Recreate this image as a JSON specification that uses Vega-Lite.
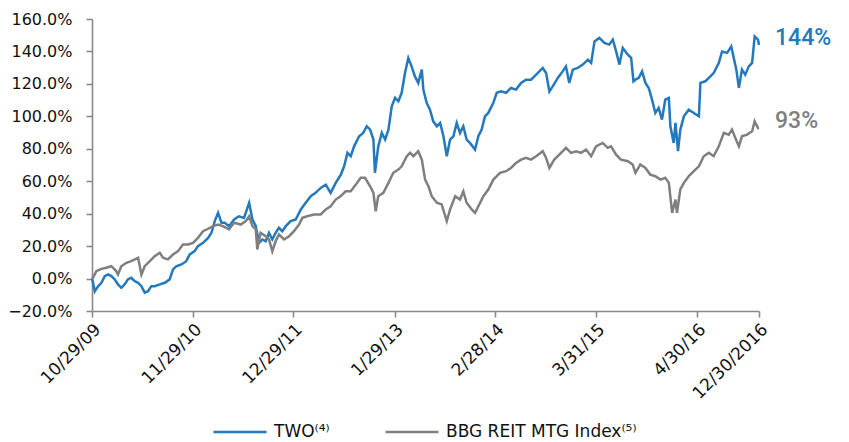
{
  "$schema": "https://vega.github.io/schema/vega-lite/v6.json",
  "width": 667,
  "height": 292,
  "autosize": {"type": "none"},
  "padding": {"left": 92, "top": 19, "right": 90, "bottom": 131},
  "background": "white",
  "config": {
    "view": {"stroke": null},
    "axis": {
      "grid": false,
      "title": null,
      "domainColor": "#8a8a8a",
      "domainWidth": 1.6,
      "tickColor": "#8a8a8a",
      "tickWidth": 1.6,
      "tickSize": 6,
      "labelColor": "#111111",
      "labelFont": "DejaVu Sans"
    }
  },
  "datasets": {
    "TWO": [
      {"date":"2009-10-29","value":0},{"date":"2009-11-02","value":-2.6},{"date":"2009-11-09","value":-7.8},{"date":"2009-11-22","value":-4.7},{"date":"2009-12-05","value":-2.6},{"date":"2009-12-18","value":1.5},{"date":"2009-12-31","value":2.5},{"date":"2010-01-13","value":1.5},{"date":"2010-01-26","value":-0.5},{"date":"2010-02-08","value":-3.6},{"date":"2010-02-21","value":-5.7},{"date":"2010-03-06","value":-3.6},{"date":"2010-03-19","value":-0.5},{"date":"2010-04-01","value":0.5},{"date":"2010-04-15","value":-1.6},{"date":"2010-04-28","value":-2.6},{"date":"2010-05-11","value":-4.7},{"date":"2010-05-24","value":-8.7},{"date":"2010-06-06","value":-7.8},{"date":"2010-06-19","value":-4.7},{"date":"2010-07-02","value":-4.7},{"date":"2010-07-22","value":-3.6},{"date":"2010-08-11","value":-2.6},{"date":"2010-08-30","value":-0.5},{"date":"2010-09-12","value":5.6},{"date":"2010-09-25","value":7.6},{"date":"2010-10-15","value":8.7},{"date":"2010-11-03","value":10.7},{"date":"2010-11-17","value":14.9},{"date":"2010-12-06","value":16.9},{"date":"2010-12-19","value":20.0},{"date":"2011-01-08","value":22.0},{"date":"2011-01-28","value":25.1},{"date":"2011-02-10","value":28.2},{"date":"2011-02-23","value":35.4},{"date":"2011-03-08","value":40.5},{"date":"2011-03-21","value":34.4},{"date":"2011-04-03","value":34.4},{"date":"2011-04-20","value":32.3},{"date":"2011-05-10","value":36.4},{"date":"2011-05-29","value":38.4},{"date":"2011-06-18","value":37.4},{"date":"2011-07-08","value":46.7},{"date":"2011-07-21","value":36.4},{"date":"2011-08-03","value":32.3},{"date":"2011-08-16","value":22.0},{"date":"2011-08-29","value":24.1},{"date":"2011-09-11","value":23.0},{"date":"2011-09-24","value":28.2},{"date":"2011-10-07","value":24.1},{"date":"2011-10-20","value":28.2},{"date":"2011-11-02","value":31.3},{"date":"2011-11-15","value":29.2},{"date":"2011-11-29","value":32.3},{"date":"2011-12-18","value":35.4},{"date":"2012-01-07","value":36.4},{"date":"2012-01-27","value":42.6},{"date":"2012-02-15","value":46.7},{"date":"2012-03-06","value":50.8},{"date":"2012-03-25","value":52.8},{"date":"2012-04-14","value":55.9},{"date":"2012-05-04","value":57.9},{"date":"2012-05-23","value":52.8},{"date":"2012-06-12","value":59.0},{"date":"2012-07-02","value":64.1},{"date":"2012-07-15","value":69.2},{"date":"2012-07-28","value":77.5},{"date":"2012-08-10","value":75.4},{"date":"2012-08-23","value":81.5},{"date":"2012-09-12","value":87.7},{"date":"2012-09-28","value":89.8},{"date":"2012-10-12","value":93.9},{"date":"2012-10-25","value":91.8},{"date":"2012-11-07","value":85.7},{"date":"2012-11-13","value":65.2},{"date":"2012-11-26","value":81.5},{"date":"2012-12-10","value":89.8},{"date":"2012-12-23","value":85.7},{"date":"2013-01-05","value":91.8},{"date":"2013-01-18","value":106.2},{"date":"2013-01-31","value":111.4},{"date":"2013-02-13","value":109.3},{"date":"2013-02-26","value":114.5},{"date":"2013-03-11","value":126.7},{"date":"2013-03-24","value":136.0},{"date":"2013-04-06","value":130.8},{"date":"2013-04-19","value":124.6},{"date":"2013-05-02","value":120.6},{"date":"2013-05-16","value":128.8},{"date":"2013-05-22","value":116.5},{"date":"2013-06-04","value":108.3},{"date":"2013-06-17","value":104.1},{"date":"2013-06-30","value":96.9},{"date":"2013-07-14","value":93.9},{"date":"2013-07-27","value":95.9},{"date":"2013-08-09","value":87.7},{"date":"2013-08-22","value":75.4},{"date":"2013-09-04","value":85.7},{"date":"2013-09-17","value":87.7},{"date":"2013-09-30","value":95.9},{"date":"2013-10-13","value":89.8},{"date":"2013-10-26","value":93.9},{"date":"2013-11-08","value":85.7},{"date":"2013-11-21","value":83.6},{"date":"2013-12-11","value":79.5},{"date":"2013-12-24","value":87.7},{"date":"2014-01-06","value":91.8},{"date":"2014-01-19","value":100.0},{"date":"2014-02-01","value":102.1},{"date":"2014-02-21","value":108.3},{"date":"2014-03-06","value":114.5},{"date":"2014-03-23","value":115.4},{"date":"2014-04-12","value":114.5},{"date":"2014-05-01","value":117.5},{"date":"2014-05-21","value":116.5},{"date":"2014-06-10","value":120.6},{"date":"2014-06-29","value":122.6},{"date":"2014-07-19","value":122.6},{"date":"2014-08-08","value":125.7},{"date":"2014-09-03","value":129.8},{"date":"2014-09-16","value":126.7},{"date":"2014-09-29","value":115.4},{"date":"2014-10-12","value":118.5},{"date":"2014-11-01","value":123.7},{"date":"2014-11-20","value":127.7},{"date":"2014-12-03","value":130.8},{"date":"2014-12-16","value":120.6},{"date":"2014-12-30","value":128.8},{"date":"2015-01-18","value":129.8},{"date":"2015-02-07","value":131.9},{"date":"2015-02-27","value":134.9},{"date":"2015-03-12","value":132.9},{"date":"2015-03-25","value":146.2},{"date":"2015-04-13","value":148.3},{"date":"2015-05-03","value":145.2},{"date":"2015-05-22","value":144.2},{"date":"2015-06-05","value":147.3},{"date":"2015-06-18","value":140.0},{"date":"2015-07-01","value":131.9},{"date":"2015-07-14","value":142.1},{"date":"2015-08-03","value":138.0},{"date":"2015-08-16","value":136.0},{"date":"2015-08-25","value":121.6},{"date":"2015-09-02","value":122.6},{"date":"2015-09-15","value":123.7},{"date":"2015-09-28","value":127.7},{"date":"2015-10-11","value":120.6},{"date":"2015-10-24","value":117.5},{"date":"2015-11-06","value":110.3},{"date":"2015-11-19","value":102.1},{"date":"2015-12-02","value":105.2},{"date":"2015-12-15","value":98.0},{"date":"2015-12-28","value":110.3},{"date":"2016-01-11","value":111.3},{"date":"2016-01-17","value":93.9},{"date":"2016-01-30","value":83.6},{"date":"2016-02-06","value":96.0},{"date":"2016-02-16","value":78.5},{"date":"2016-02-25","value":91.8},{"date":"2016-03-10","value":100.0},{"date":"2016-03-29","value":104.1},{"date":"2016-04-18","value":102.1},{"date":"2016-05-08","value":100.0},{"date":"2016-05-14","value":120.6},{"date":"2016-06-02","value":121.6},{"date":"2016-06-22","value":124.6},{"date":"2016-07-05","value":126.7},{"date":"2016-07-25","value":132.9},{"date":"2016-08-07","value":140.0},{"date":"2016-08-27","value":139.1},{"date":"2016-09-12","value":143.1},{"date":"2016-09-22","value":136.0},{"date":"2016-10-02","value":128.8},{"date":"2016-10-12","value":117.5},{"date":"2016-10-24","value":128.8},{"date":"2016-11-06","value":125.7},{"date":"2016-11-20","value":130.8},{"date":"2016-12-03","value":132.9},{"date":"2016-12-13","value":149.3},{"date":"2016-12-26","value":147.3},{"date":"2016-12-30","value":144}
    ],
    "BBG": [
      {"date":"2009-10-29","value":0},{"date":"2009-11-02","value":0.5},{"date":"2009-11-15","value":4.6},{"date":"2009-12-05","value":6.0},{"date":"2009-12-24","value":6.7},{"date":"2010-01-13","value":7.6},{"date":"2010-02-01","value":4.6},{"date":"2010-02-08","value":2.5},{"date":"2010-02-21","value":7.6},{"date":"2010-03-13","value":9.7},{"date":"2010-04-01","value":10.7},{"date":"2010-04-28","value":12.8},{"date":"2010-05-11","value":2.5},{"date":"2010-05-24","value":7.6},{"date":"2010-06-13","value":10.7},{"date":"2010-07-02","value":13.8},{"date":"2010-07-22","value":15.9},{"date":"2010-08-04","value":12.8},{"date":"2010-08-23","value":11.8},{"date":"2010-09-12","value":14.8},{"date":"2010-10-02","value":16.9},{"date":"2010-10-21","value":21.0},{"date":"2010-11-10","value":21.0},{"date":"2010-11-30","value":22.0},{"date":"2010-12-19","value":25.1},{"date":"2011-01-08","value":29.2},{"date":"2011-01-28","value":30.7},{"date":"2011-02-16","value":32.3},{"date":"2011-03-08","value":33.3},{"date":"2011-03-27","value":32.3},{"date":"2011-04-20","value":30.3},{"date":"2011-05-10","value":34.4},{"date":"2011-06-05","value":33.3},{"date":"2011-06-25","value":35.4},{"date":"2011-07-08","value":38.4},{"date":"2011-07-21","value":32.3},{"date":"2011-08-03","value":30.3},{"date":"2011-08-09","value":17.9},{"date":"2011-08-22","value":28.2},{"date":"2011-09-11","value":26.1},{"date":"2011-09-24","value":24.1},{"date":"2011-10-07","value":16.9},{"date":"2011-10-20","value":23.0},{"date":"2011-11-02","value":27.2},{"date":"2011-11-22","value":24.1},{"date":"2011-12-12","value":26.1},{"date":"2011-12-31","value":29.2},{"date":"2012-01-20","value":33.3},{"date":"2012-02-02","value":37.4},{"date":"2012-02-21","value":38.4},{"date":"2012-03-19","value":39.5},{"date":"2012-04-14","value":39.5},{"date":"2012-05-04","value":42.6},{"date":"2012-05-23","value":44.6},{"date":"2012-06-12","value":48.7},{"date":"2012-07-02","value":50.8},{"date":"2012-07-21","value":53.8},{"date":"2012-08-10","value":53.8},{"date":"2012-08-30","value":57.9},{"date":"2012-09-18","value":62.1},{"date":"2012-10-05","value":62.1},{"date":"2012-10-25","value":56.9},{"date":"2012-11-07","value":52.8},{"date":"2012-11-16","value":41.5},{"date":"2012-11-26","value":50.8},{"date":"2012-12-16","value":52.8},{"date":"2013-01-05","value":59.0},{"date":"2013-01-24","value":65.2},{"date":"2013-02-13","value":67.2},{"date":"2013-02-26","value":69.2},{"date":"2013-03-18","value":75.4},{"date":"2013-03-31","value":77.5},{"date":"2013-04-13","value":75.4},{"date":"2013-05-02","value":78.5},{"date":"2013-05-16","value":73.3},{"date":"2013-05-29","value":61.0},{"date":"2013-06-11","value":56.9},{"date":"2013-06-24","value":50.8},{"date":"2013-07-14","value":46.7},{"date":"2013-08-02","value":45.7},{"date":"2013-08-22","value":35.4},{"date":"2013-09-04","value":42.6},{"date":"2013-09-24","value":50.8},{"date":"2013-10-13","value":48.7},{"date":"2013-10-26","value":53.8},{"date":"2013-11-08","value":46.7},{"date":"2013-11-28","value":42.6},{"date":"2013-12-11","value":40.5},{"date":"2013-12-24","value":44.6},{"date":"2014-01-13","value":50.8},{"date":"2014-02-01","value":54.9},{"date":"2014-02-21","value":61.0},{"date":"2014-03-19","value":65.2},{"date":"2014-04-12","value":66.2},{"date":"2014-05-01","value":68.2},{"date":"2014-05-21","value":71.3},{"date":"2014-06-10","value":73.3},{"date":"2014-06-29","value":74.4},{"date":"2014-07-19","value":73.3},{"date":"2014-08-08","value":75.4},{"date":"2014-09-03","value":78.5},{"date":"2014-09-16","value":74.4},{"date":"2014-09-29","value":68.2},{"date":"2014-10-18","value":73.3},{"date":"2014-11-07","value":76.4},{"date":"2014-12-03","value":80.6},{"date":"2014-12-23","value":77.5},{"date":"2015-01-12","value":78.5},{"date":"2015-01-31","value":77.5},{"date":"2015-02-20","value":79.5},{"date":"2015-03-12","value":75.4},{"date":"2015-03-31","value":81.5},{"date":"2015-04-26","value":83.6},{"date":"2015-05-16","value":80.6},{"date":"2015-05-29","value":81.5},{"date":"2015-06-18","value":76.4},{"date":"2015-07-07","value":73.3},{"date":"2015-08-03","value":72.3},{"date":"2015-08-22","value":70.3},{"date":"2015-09-02","value":65.2},{"date":"2015-09-21","value":70.3},{"date":"2015-10-11","value":68.2},{"date":"2015-10-30","value":64.1},{"date":"2015-11-19","value":63.1},{"date":"2015-12-09","value":61.0},{"date":"2015-12-28","value":62.1},{"date":"2016-01-11","value":59.0},{"date":"2016-01-24","value":40.5},{"date":"2016-02-06","value":48.7},{"date":"2016-02-12","value":40.5},{"date":"2016-02-25","value":54.9},{"date":"2016-03-10","value":59.0},{"date":"2016-03-29","value":63.1},{"date":"2016-04-18","value":66.2},{"date":"2016-05-08","value":69.2},{"date":"2016-05-27","value":75.4},{"date":"2016-06-16","value":77.5},{"date":"2016-07-05","value":75.4},{"date":"2016-07-25","value":81.5},{"date":"2016-08-14","value":89.8},{"date":"2016-09-02","value":88.7},{"date":"2016-09-15","value":91.8},{"date":"2016-09-28","value":86.7},{"date":"2016-10-12","value":81.5},{"date":"2016-10-24","value":87.7},{"date":"2016-11-13","value":88.7},{"date":"2016-12-03","value":90.8},{"date":"2016-12-13","value":96.9},{"date":"2016-12-26","value":92.8},{"date":"2016-12-30","value":93}
    ],
    "ends": [
      {"date":"2016-12-30","value":144,"series":"TWO","label":"144%"},
      {"date":"2016-12-30","value":93,"series":"BBG REIT MTG Index","label":"93%"}
    ]
  },
  "encoding": {
    "x": {
      "field": "date",
      "type": "temporal",
      "scale": {
        "type": "utc",
        "domain": [
          {"year": 2009, "month": 10, "date": 29, "utc": true},
          {"year": 2016, "month": 12, "date": 30, "utc": true}
        ]
      },
      "axis": {
        "values": [
          {"year": 2009, "month": 10, "date": 29, "utc": true},
          {"year": 2010, "month": 11, "date": 29, "utc": true},
          {"year": 2011, "month": 12, "date": 29, "utc": true},
          {"year": 2013, "month": 1, "date": 29, "utc": true},
          {"year": 2014, "month": 2, "date": 28, "utc": true},
          {"year": 2015, "month": 3, "date": 31, "utc": true},
          {"year": 2016, "month": 4, "date": 30, "utc": true},
          {"year": 2016, "month": 12, "date": 30, "utc": true}
        ],
        "labelExpr": "utcFormat(datum.value, (utcyear(datum.value) == 2016 && utcmonth(datum.value) == 11) ? '%m/%d/%Y' : '%-m/%-d/%y')",
        "labelAngle": -45,
        "labelFontSize": 17,
        "labelPadding": 4,
        "labelOverlap": false,
        "labelBound": false,
        "labelFlush": false
      }
    },
    "y": {
      "field": "value",
      "type": "quantitative",
      "scale": {"domain": [-20, 160], "nice": false, "zero": false},
      "axis": {
        "values": [-20, 0, 20, 40, 60, 80, 100, 120, 140, 160],
        "labelExpr": "format(datum.value, '.1f') + '%'",
        "labelFontSize": 16,
        "labelPadding": 14
      }
    }
  },
  "layer": [
    {
      "data": {"name": "TWO"},
      "mark": {"type": "line", "strokeWidth": 2.5},
      "encoding": {
        "color": {
          "datum": "TWO",
          "type": "nominal",
          "scale": {"domain": ["TWO", "BBG REIT MTG Index"], "range": ["#2479bd", "#7f7f7f"]},
          "legend": {
            "orient": "none",
            "legendX": 120,
            "legendY": 385,
            "direction": "horizontal",
            "title": null,
            "padding": 0,
            "symbolType": "stroke",
            "symbolSize": 2809,
            "symbolStrokeWidth": 2.5,
            "labelFont": "DejaVu Sans",
            "labelFontSize": 17,
            "labelLimit": 400,
            "labelColor": "#111111",
            "labelOffset": 6,
            "columnPadding": 50,
            "labelExpr": "datum.label == 'TWO' ? 'TWO⁽⁴⁾' : 'BBG REIT MTG Index⁽⁵⁾'"
          }
        }
      }
    },
    {
      "data": {"name": "BBG"},
      "mark": {"type": "line", "strokeWidth": 2.5},
      "encoding": {
        "color": {"datum": "BBG REIT MTG Index", "type": "nominal"}
      }
    },
    {
      "data": {"name": "ends"},
      "mark": {"type": "text", "align": "left", "baseline": "middle", "dx": 16, "dy": -7, "font": "Roboto", "fontWeight": 500, "fontSize": 23},
      "encoding": {
        "text": {"field": "label"},
        "color": {"field": "series", "type": "nominal", "legend": null}
      }
    }
  ]
}
